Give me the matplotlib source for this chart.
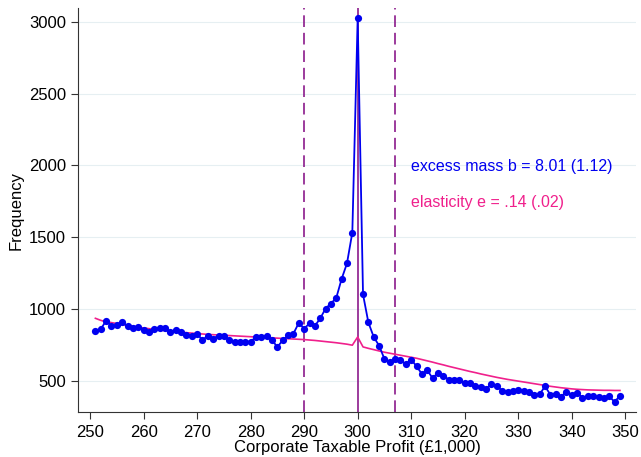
import matplotlib
matplotlib.use('Agg')
import matplotlib.pyplot as plt

plt.rcParams['font.family'] = ['Liberation Sans', 'DejaVu Sans']

# profit bins (in £1,000)
bins = list(range(251, 350))

# observed frequency per bin
observed = [
    846, 860, 920, 881, 890, 909, 883, 869, 876, 853,
    839, 865, 872, 867, 839, 858, 841, 823, 816, 825,
    788, 811, 795, 816, 811, 788, 774, 774, 774, 774,
    806, 806, 813, 783, 737, 783, 818, 830, 904, 865,
    900, 883, 935, 1004, 1039, 1078, 1210, 1318, 1533, 3024,
    1102, 907, 806, 746, 653, 635, 651, 644, 618, 649,
    602, 549, 575, 519, 558, 537, 510, 505, 505, 484,
    484, 463, 458, 447, 479, 463, 433, 423, 430, 435,
    433, 423, 405, 407, 463, 405, 412, 391, 426, 405,
    419, 382, 393, 393, 389, 382, 393, 354, 398,
]

# estimated counterfactual frequency per bin
counterfactual = [
    936, 922, 911, 906, 900, 892, 886, 880, 874, 869,
    864, 859, 855, 851, 848, 844, 840, 836, 833, 830,
    827, 824, 822, 820, 818, 816, 814, 812, 810, 808,
    806, 804, 802, 800, 798, 796, 794, 792, 790, 788,
    785, 782, 778, 774, 770, 766, 761, 756, 749, 806,
    737, 727, 718, 709, 700, 693, 686, 679, 672, 665,
    658, 649, 640, 631, 621, 612, 602, 593, 584, 575,
    566, 558, 549, 541, 533, 525, 518, 511, 505, 499,
    493, 487, 481, 475, 469, 463, 458, 453, 449, 445,
    442, 440, 438, 437, 436, 435, 435, 434, 434,
]

threshold = 300
window = [290, 307]
yticks = [500, 1000, 1500, 2000, 2500, 3000]
xticks = list(range(250, 351, 10))

blue = '#0000f0'
pink = '#f0208c'
purple = '#8b1a8b'

fig = plt.figure(figsize=(6.41, 4.57), dpi=100)
ax = fig.add_axes([0.1222, 0.0978, 0.8700, 0.8840])

for y in yticks:
    ax.axhline(y, color='#e6eff2', lw=0.8, zorder=0)

ax.axvline(threshold, color=purple, lw=1.2, zorder=1)
for w in window:
    ax.axvline(w, color=purple, lw=1.2, ls=(0, (7, 3.5)), zorder=1)

ax.plot(bins, counterfactual, color=pink, lw=1.2, zorder=2)
ax.plot(bins, observed, color=blue, lw=1.3, marker='o', ms=5.2,
        markeredgewidth=0, zorder=3)

ax.text(310, 1995, 'excess mass b = 8.01 (1.12)', color=blue, fontsize=11.5,
        va='center', ha='left')
ax.text(310, 1744, 'elasticity e = .14 (.02)', color=pink, fontsize=11.5,
        va='center', ha='left')

ax.set_xlim(247.81, 352.0)
ax.set_ylim(282, 3093)
ax.set_xticks(xticks)
ax.set_yticks(yticks)
ax.tick_params(labelsize=12, length=5, width=0.8, color='#333333', pad=4)
ax.set_xlabel('Corporate Taxable Profit (£1,000)', fontsize=12, labelpad=0)
ax.set_ylabel('Frequency', fontsize=12, labelpad=4)

ax.spines['top'].set_visible(False)
ax.spines['right'].set_visible(False)
ax.spines['left'].set_color('#333333')
ax.spines['bottom'].set_color('#333333')

fig.savefig('out.png', dpi=100)
plt.close(fig)
